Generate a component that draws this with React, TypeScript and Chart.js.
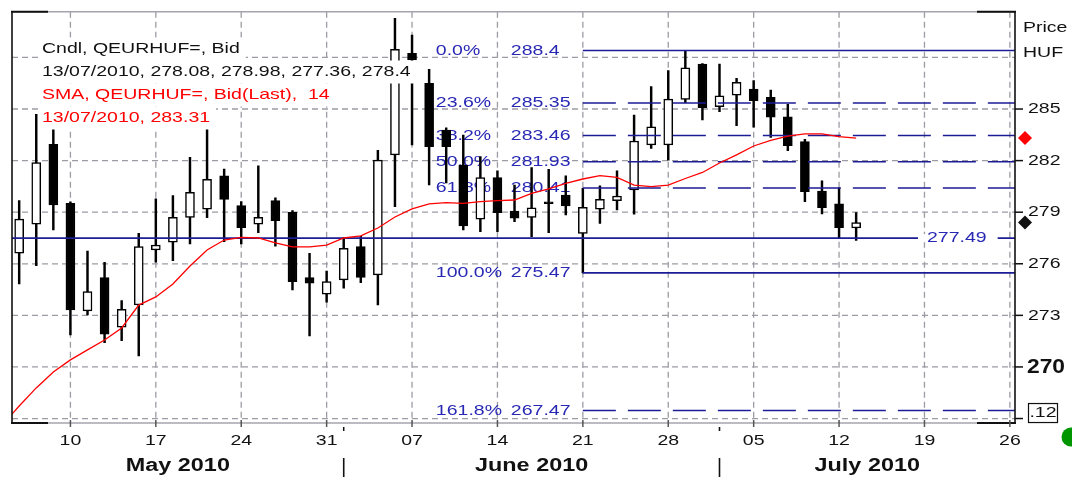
import React, { useEffect, useRef } from "react";
import { Chart, registerables } from "chart.js";

Chart.register(...registerables);

// ---------- data ----------
const dates = [
  "2010-05-04", "2010-05-05", "2010-05-06", "2010-05-07",
  "2010-05-10", "2010-05-11", "2010-05-12", "2010-05-13", "2010-05-14",
  "2010-05-17", "2010-05-18", "2010-05-19", "2010-05-20", "2010-05-21",
  "2010-05-24", "2010-05-25", "2010-05-26", "2010-05-27", "2010-05-28",
  "2010-05-31", "2010-06-01", "2010-06-02", "2010-06-03", "2010-06-04",
  "2010-06-07", "2010-06-08", "2010-06-09", "2010-06-10", "2010-06-11",
  "2010-06-14", "2010-06-15", "2010-06-16", "2010-06-17", "2010-06-18",
  "2010-06-21", "2010-06-22", "2010-06-23", "2010-06-24", "2010-06-25",
  "2010-06-28", "2010-06-29", "2010-06-30", "2010-07-01", "2010-07-02",
  "2010-07-05", "2010-07-06", "2010-07-07", "2010-07-08", "2010-07-09",
  "2010-07-12", "2010-07-13",
];

const opens: (number | null)[] = [
  null, 276.61, 278.31, 282.95,
  279.52, 273.26, 275.19, 272.31, 273.6,
  276.8, 277.25, 278.7, 279.17, 281.12,
  279.38, 278.31, 279.67, 278.99, 275.19,
  274.23, 275.06, 277.0, 275.35, 282.33,
  288.24, 286.49, 283.78, 281.74, 278.6,
  281.01, 279.07, 278.7, 279.6, 280.0,
  277.77, 279.17, 279.67, 280.29, 282.91,
  282.91, 285.56, 287.62, 285.13, 285.81,
  286.16, 285.68, 284.55, 283.1, 280.23,
  279.48, 278.08,
];
const highs: (number | null)[] = [
  null, 279.67, 284.69, 283.82,
  279.6, 276.74, 276.09, 273.86, 277.77,
  279.77, 279.96, 282.19, 283.82, 281.51,
  279.61, 281.7, 279.84, 279.1, 276.61,
  275.58, 277.54, 277.6, 282.6, 290.27,
  289.3, 287.31, 283.9, 283.49, 282.23,
  281.41, 280.58, 281.59, 281.49, 281.12,
  280.39, 280.54, 281.4, 284.65, 286.3,
  287.23, 288.4, 287.65, 287.62, 286.78,
  286.65, 286.1, 285.27, 283.24, 280.83,
  280.42, 278.98,
];
const lows: (number | null)[] = [
  null, 274.83, 275.89, 277.97,
  271.86, 273.02, 271.41, 271.53, 270.64,
  276.09, 276.18, 277.15, 278.68, 277.28,
  277.15, 277.81, 277.03, 274.48, 271.8,
  273.76, 274.58, 274.9, 273.6, 279.32,
  282.91, 280.58, 280.7, 277.97, 277.87,
  277.87, 278.45, 277.58, 277.81, 278.84,
  275.47, 278.35, 279.13, 278.88, 282.71,
  282.03, 285.37, 284.36, 284.84, 284.03,
  283.94, 283.35, 282.58, 279.61, 278.9,
  277.49, 277.36,
];
const closes: (number | null)[] = [
  null, 278.6, 281.88, 279.42,
  273.31, 274.38, 271.9, 273.35, 277.0,
  277.09, 278.7, 280.16, 280.91, 279.75,
  278.1, 278.7, 278.51, 274.96, 274.87,
  274.96, 276.9, 275.2, 282.03, 288.47,
  287.85, 282.81, 282.81, 278.2, 281.01,
  278.97, 278.65, 279.26, 279.5, 279.36,
  279.28, 279.75, 279.94, 283.14, 283.97,
  285.58, 287.4, 285.08, 285.77, 286.55,
  285.48, 284.52, 282.87, 280.19, 279.26,
  278.1, 278.4,
];
const sma14: number[] = [
  266.6, 267.73, 268.78, 269.71,
  270.41, 270.99, 271.57, 272.27, 273.6,
  274.07, 274.83, 275.87, 276.8, 277.38,
  277.53, 277.5, 277.21, 276.98, 276.98,
  277.09, 277.5, 277.62, 278.08, 278.72,
  279.19, 279.48, 279.56, 279.51, 279.62,
  279.67, 279.71, 280.09, 280.35, 280.67,
  280.93, 281.13, 281.02, 280.58, 280.49,
  280.58, 280.96, 281.31, 281.86, 282.33,
  282.85, 283.17, 283.43, 283.55, 283.55,
  283.4, 283.31,
];

const fibStartDate = "2010-06-21";
const fibPercents = [0.0, 23.6, 38.2, 50.0, 61.8, 100.0, 161.8];
const fibValues = [288.4, 285.35, 283.46, 281.93, 280.41, 275.47, 267.47];
const fibValueLabels = ["288.4", "285.35", "283.46", "281.93", "280.41", "275.47", "267.47"];
const fibDashed = [false, true, true, true, true, false, true];
const supportValue = 277.49;

const tickDates = [
  "2010-05-10", "2010-05-17", "2010-05-24", "2010-05-31", "2010-06-07", "2010-06-14",
  "2010-06-21", "2010-06-28", "2010-07-05", "2010-07-12", "2010-07-19", "2010-07-26",
];
const tickLabels = ["10", "17", "24", "31", "07", "14", "21", "28", "05", "12", "19", "26"];
const monthNames = ["May 2010", "June 2010", "July 2010"];
const monthBoundaries = ["2010-06-01", "2010-07-01"];
const yGridValues = [267, 270, 273, 276, 279, 282, 285, 288];
const yLabelValues = [285, 282, 279, 276, 273, 270];
const yBoldLabel = 270;
const yBoxValue = 267;
const yBoxText = ".12";
const candleTitle = "Cndl, QEURHUF=, Bid";
const smaTitle = "SMA, QEURHUF=, Bid(Last),  14";
const axisTitle = ["Price", "HUF"];

const X_MIN = -3.42;
const X_MAX = 55.3;
const Y_MIN = 266.74;
const Y_MAX = 290.66;

// trading-day index relative to Monday 10 May 2010 (weekends skipped)
const BASE = Date.UTC(2010, 4, 10);
function tIndex(d: string): number {
  const [yy, mm, dd] = d.split("-").map(Number);
  const days = Math.round((Date.UTC(yy, mm - 1, dd) - BASE) / 86400000);
  const weeks = Math.floor(days / 7);
  const rem = days - weeks * 7;
  return weeks * 5 + Math.min(rem, 5);
}
function fmtDate(d: string): string {
  const [yy, mm, dd] = d.split("-");
  return `${dd}/${mm}/${yy}`;
}

const FONT = '"Liberation Sans", Arial, sans-serif';
const SX = 1.3;
const FIB_LINE = "rgb(28,28,150)";
const FIB_TEXT = "rgb(40,40,180)";

type TOpt = { size?: number; bold?: boolean; color?: string; align?: CanvasTextAlign; sx?: number };
function setFont(ctx: CanvasRenderingContext2D, o: TOpt) {
  ctx.font = `${o.bold ? "bold " : ""}${o.size ?? 15}px ${FONT}`;
}
function measure(ctx: CanvasRenderingContext2D, s: string, o: TOpt = {}) {
  ctx.save();
  setFont(ctx, o);
  const w = ctx.measureText(s).width * (o.sx ?? SX);
  ctx.restore();
  return w;
}
function drawText(ctx: CanvasRenderingContext2D, s: string, x: number, y: number, o: TOpt = {}) {
  ctx.save();
  setFont(ctx, o);
  ctx.fillStyle = o.color ?? "#111";
  ctx.textAlign = o.align ?? "left";
  ctx.textBaseline = "middle";
  ctx.translate(x, y);
  ctx.scale(o.sx ?? SX, 1);
  ctx.fillText(s, 0, 0);
  ctx.restore();
}
function seg(ctx: CanvasRenderingContext2D, x1: number, y1: number, x2: number, y2: number) {
  ctx.beginPath();
  ctx.moveTo(x1, y1);
  ctx.lineTo(x2, y2);
  ctx.stroke();
}

const backgroundPlugin = {
  id: "bgLayer",
  beforeDatasetsDraw(chart: any) {
    const { ctx, chartArea: a, scales } = chart;
    const xs = scales.x;
    const ys = scales.y;
    ctx.save();
    ctx.strokeStyle = "#9c9ca4";
    ctx.lineWidth = 1.3;
    ctx.setLineDash([6, 4]);
    yGridValues.forEach((v) => {
      const py = ys.getPixelForValue(v);
      seg(ctx, a.left, py, a.right, py);
    });
    tickDates.forEach((d) => {
      const px = xs.getPixelForValue(tIndex(d));
      seg(ctx, px, a.top, px, a.bottom);
    });
    ctx.restore();

    // fibonacci labels (beneath candles)
    const fx = xs.getPixelForValue(tIndex(fibStartDate));
    fibPercents.forEach((p, i) => {
      const py = ys.getPixelForValue(fibValues[i]);
      drawText(ctx, `${p.toFixed(1)}%`, fx - 147, py, { color: FIB_TEXT });
      drawText(ctx, fibValueLabels[i], fx - 72, py, { color: FIB_TEXT });
    });
  },
};

const overlayPlugin = {
  id: "overlayLayer",
  afterDatasetsDraw(chart: any) {
    const { ctx, chartArea: a, scales } = chart;
    const xs = scales.x;
    const ys = scales.y;
    const last = dates.length - 1;

    // support line label
    {
      const py = ys.getPixelForValue(supportValue);
      const label = supportValue.toFixed(2);
      const w = measure(ctx, label);
      const lx = a.right - 88;
      ctx.fillStyle = "#fff";
      ctx.fillRect(lx - 9, py - 4, w + 20, 8);
      drawText(ctx, label, lx, py, { color: FIB_TEXT });
    }

    // legend block
    const lines = [
      { t: candleTitle, c: "#111" },
      { t: `${fmtDate(dates[last])}, ${opens[last]}, ${highs[last]}, ${lows[last]}, ${closes[last]}`, c: "#111" },
      { t: smaTitle, c: "#ff0000" },
      { t: `${fmtDate(dates[last])}, ${sma14[last].toFixed(2)}`, c: "#ff0000" },
    ];
    const lx = a.left + 30;
    const ly0 = 49;
    const lh = 23;
    lines.forEach((l, i) => {
      const w = measure(ctx, l.t);
      ctx.fillStyle = "#fff";
      ctx.fillRect(lx - 4, ly0 + i * lh - 11.5, w + 10, lh);
    });
    lines.forEach((l, i) => drawText(ctx, l.t, lx, ly0 + i * lh, { color: l.c }));

    // frame
    ctx.save();
    ctx.strokeStyle = "#a4a4ac";
    ctx.lineWidth = 1.5;
    seg(ctx, a.left, a.top, a.right, a.top);
    seg(ctx, a.left, a.bottom, a.right, a.bottom);
    ctx.strokeStyle = "#111";
    ctx.lineWidth = 1.6;
    seg(ctx, a.left, a.top, a.left, a.bottom);
    seg(ctx, a.right, a.top, a.right, a.bottom);
    ctx.lineWidth = 2;
    seg(ctx, a.left - 1, a.top, a.left + 36, a.top);
    seg(ctx, a.left - 1, a.bottom, a.left + 36, a.bottom);
    seg(ctx, a.right - 38, a.top, a.right + 1, a.top);
    seg(ctx, a.right - 38, a.bottom, a.right + 1, a.bottom);

    // right axis ticks & labels
    ctx.lineWidth = 1.5;
    [...yLabelValues, yBoxValue].forEach((v) => {
      const py = ys.getPixelForValue(v);
      seg(ctx, a.right, py, a.right + 8, py);
    });
    ctx.restore();
    yLabelValues.forEach((v) => {
      const py = ys.getPixelForValue(v);
      if (v === yBoldLabel) drawText(ctx, String(v), a.right + 12, py + 0.5, { bold: true, size: 20, sx: 1.14 });
      else drawText(ctx, String(v), a.right + 13, py, {});
    });
    {
      const py = ys.getPixelForValue(yBoxValue);
      ctx.save();
      ctx.strokeStyle = "#111";
      ctx.lineWidth = 1.2;
      ctx.strokeRect(a.right + 13.5, py - 15, 29, 19);
      ctx.restore();
      drawText(ctx, yBoxText, a.right + 28, py - 5.5, { align: "center" });
    }
    drawText(ctx, axisTitle[0], a.right + 8, 28, {});
    drawText(ctx, axisTitle[1], a.right + 8, 53, {});

    // markers for last values
    const diamond = (cy: number, color: string) => {
      const cx = a.right + 10;
      ctx.save();
      ctx.fillStyle = color;
      ctx.beginPath();
      ctx.moveTo(cx, cy - 7);
      ctx.lineTo(cx + 7, cy);
      ctx.lineTo(cx, cy + 7);
      ctx.lineTo(cx - 7, cy);
      ctx.closePath();
      ctx.fill();
      ctx.restore();
    };
    diamond(ys.getPixelForValue(sma14[last]), "#ff0000");
    diamond(ys.getPixelForValue(closes[last] as number), "#111");

    // x axis ticks & labels
    ctx.save();
    ctx.strokeStyle = "#555";
    ctx.lineWidth = 1.5;
    tickDates.forEach((d, i) => {
      const px = xs.getPixelForValue(tIndex(d));
      seg(ctx, px, a.bottom - 3, px, a.bottom + 4);
      drawText(ctx, tickLabels[i], px, a.bottom + 18, { align: "center" });
    });
    ctx.strokeStyle = "#111";
    const bounds = monthBoundaries.map((d) => xs.getPixelForValue(tIndex(d)));
    bounds.forEach((px) => {
      seg(ctx, px, a.bottom + 4, px, a.bottom + 8);
      ctx.lineWidth = 1.6;
      seg(ctx, px, a.bottom + 35, px, a.bottom + 56);
    });
    ctx.restore();
    const edges = [a.left, ...bounds, a.right];
    monthNames.forEach((m, i) => {
      const cx = (edges[i] + edges[i + 1]) / 2;
      drawText(ctx, m, cx, a.bottom + 43, { bold: true, size: 18, sx: 1.3, align: "center" });
    });

    // status dot
    ctx.save();
    ctx.fillStyle = "rgb(0,150,0)";
    ctx.beginPath();
    ctx.arc(a.right + 56, a.bottom + 14, 9.5, 0, Math.PI * 2);
    ctx.fill();
    ctx.restore();
  },
};

export default function App() {
  const ref = useRef<HTMLCanvasElement | null>(null);

  useEffect(() => {
    if (!ref.current) return;
    const idx = dates.map(tIndex);
    const wickData: any[] = [];
    const bodyData: any[] = [];
    const bodyColors: string[] = [];
    dates.forEach((_, i) => {
      const o = opens[i], h = highs[i], l = lows[i], c = closes[i];
      if (o == null || h == null || l == null || c == null) return;
      wickData.push({ x: idx[i], y: [l, h] });
      bodyData.push({ x: idx[i], y: [o, c] });
      bodyColors.push(c >= o ? "#ffffff" : "#000000");
    });
    const fibStart = tIndex(fibStartDate);
    const fibSets = fibValues.map((v, i) => ({
      type: "line" as const,
      data: [{ x: fibStart, y: v }, { x: X_MAX + 5, y: v }],
      borderColor: FIB_LINE,
      borderWidth: 1.6,
      borderDash: fibDashed[i] ? [33, 12] : [],
      pointRadius: 0,
      clip: 0,
    }));

    const chart = new Chart(ref.current, {
      type: "bar",
      data: {
        datasets: [
          {
            type: "line",
            data: dates.map((d, i) => ({ x: idx[i], y: sma14[i] })),
            borderColor: "#ff0000",
            borderWidth: 1.3,
            pointRadius: 0,
            tension: 0,
            clip: 0,
          } as any,
          ...fibSets,
          {
            type: "line",
            data: [{ x: X_MIN - 5, y: supportValue }, { x: X_MAX + 5, y: supportValue }],
            borderColor: FIB_LINE,
            borderWidth: 1.6,
            pointRadius: 0,
            clip: 0,
          } as any,
          {
            type: "bar",
            data: bodyData,
            backgroundColor: bodyColors,
            borderColor: "#000",
            borderWidth: 1.5,
            borderSkipped: false,
            barThickness: 9,
            grouped: false,
          } as any,
          {
            type: "bar",
            data: wickData,
            backgroundColor: "#000",
            borderWidth: 0,
            barThickness: 1.8,
            grouped: false,
          } as any,
        ],
      },
      options: {
        responsive: false,
        maintainAspectRatio: false,
        animation: false,
        devicePixelRatio: 1,
        events: [],
        layout: { padding: { left: 12, right: 57, top: 11.7, bottom: 54 } },
        plugins: { legend: { display: false }, tooltip: { enabled: false } },
        scales: {
          x: { type: "linear", min: X_MIN, max: X_MAX, display: false, offset: false },
          y: { type: "linear", min: Y_MIN, max: Y_MAX, display: false },
        },
      } as any,
      plugins: [backgroundPlugin, overlayPlugin],
    });
    return () => chart.destroy();
  }, []);

  return (
    <div style={{ position: "absolute", left: 0, top: 0, width: 1072, height: 477, background: "#fff" }}>
      <canvas ref={ref} width={1072} height={477} style={{ display: "block" }} />
    </div>
  );
}
